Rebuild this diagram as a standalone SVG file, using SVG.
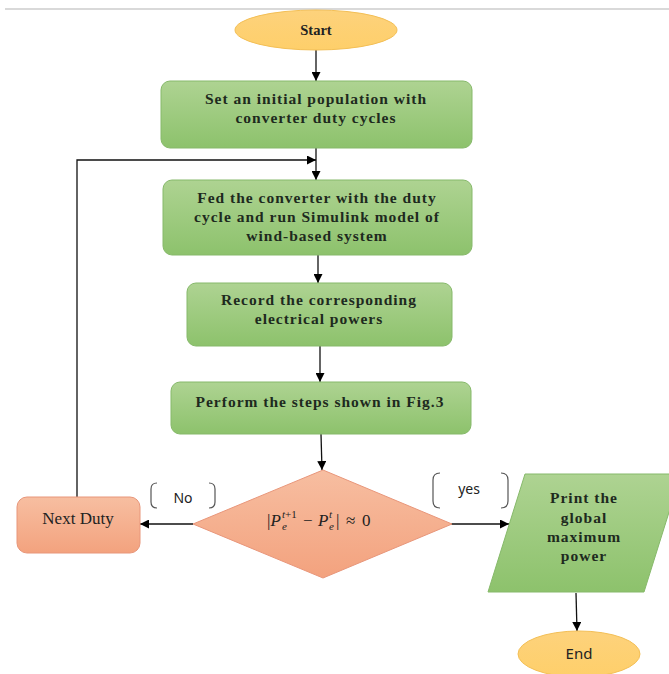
<svg xmlns="http://www.w3.org/2000/svg" width="669" height="674" viewBox="0 0 669 674">
<defs>
  <linearGradient id="gGreen" x1="0" y1="0" x2="0" y2="1">
    <stop offset="0" stop-color="#aed392"/>
    <stop offset="1" stop-color="#8dc26c"/>
  </linearGradient>
  <linearGradient id="gOrange" x1="0" y1="0" x2="0" y2="1">
    <stop offset="0" stop-color="#f7bea1"/>
    <stop offset="1" stop-color="#f3a27e"/>
  </linearGradient>
  <linearGradient id="gYellow" x1="0" y1="0" x2="0" y2="1">
    <stop offset="0" stop-color="#fdd27c"/>
    <stop offset="1" stop-color="#fecf6a"/>
  </linearGradient>
  <marker id="arr" viewBox="0 0 10 10" refX="10" refY="5" markerWidth="9" markerHeight="9" markerUnits="userSpaceOnUse" orient="auto">
    <path d="M0,0 L10,5 L0,10 z" fill="#000"/>
  </marker>
</defs>
<style>
  .green { fill: url(#gGreen); stroke: #86b96a; stroke-width: 1; }
  .orange { fill: url(#gOrange); stroke: #e8967a; stroke-width: 1; }
  .yellow { fill: url(#gYellow); stroke: #f3bf56; stroke-width: 1; }
  .bt { font-family: "Liberation Serif", "Times New Roman", serif; font-weight: bold; font-size: 15.5px; letter-spacing: 1px; fill: #1e2a1e; text-anchor: middle; }
  .rt { font-family: "Liberation Serif", "Times New Roman", serif; font-size: 17px; fill: #222; text-anchor: middle; }
  .st { font-family: "Noto Sans", "Open Sans", sans-serif; font-size: 14px; fill: #222; text-anchor: middle; }
  .mt { font-family: "Liberation Serif", "Times New Roman", serif; font-size: 17px; fill: #222; }
  .mi { font-style: italic; }
  .ms { font-family: "Liberation Serif", "Times New Roman", serif; font-size: 11px; font-style: italic; fill: #222; }
  .conn { stroke: #111; stroke-width: 1.3; fill: none; }
  .br { stroke: #555; stroke-width: 1.2; fill: none; }
</style>
<rect x="0" y="0" width="669" height="674" fill="#fff"/>
<line x1="5" y1="9" x2="669" y2="9" stroke="#d9d9d9" stroke-width="2"/>

<g id="connectors">
  <line class="conn" x1="316" y1="50" x2="316" y2="81" marker-end="url(#arr)"/>
  <line class="conn" x1="316" y1="148" x2="316" y2="180" marker-end="url(#arr)"/>
  <polyline class="conn" points="77,497 77,160 316,160" marker-end="url(#arr)"/>
  <line class="conn" x1="318" y1="255" x2="318" y2="283" marker-end="url(#arr)"/>
  <line class="conn" x1="320" y1="346" x2="320" y2="382" marker-end="url(#arr)"/>
  <line class="conn" x1="321" y1="434" x2="322" y2="470" marker-end="url(#arr)"/>
  <line class="conn" x1="193" y1="524" x2="140" y2="524" marker-end="url(#arr)"/>
  <line class="conn" x1="451" y1="524" x2="509" y2="524" marker-end="url(#arr)"/>
  <line class="conn" x1="576" y1="593" x2="577" y2="631" marker-end="url(#arr)"/>
</g>

<g id="start">
  <ellipse class="yellow" cx="316" cy="30" rx="81" ry="20"/>
  <text class="st" x="316" y="35" style="font-family:'Liberation Serif',serif;font-weight:bold;font-size:14.5px">Start</text>
</g>

<g id="init">
  <rect class="green" x="161" y="81" width="311" height="67" rx="9"/>
  <text class="bt" x="316" y="104">Set an initial population with</text>
  <text class="bt" x="316" y="123">converter duty cycles</text>
</g>

<g id="feed">
  <rect class="green" x="163" y="180" width="309" height="75" rx="9"/>
  <text class="bt" x="317" y="203">Fed the converter with the duty</text>
  <text class="bt" x="317" y="222">cycle and run Simulink model of</text>
  <text class="bt" x="317" y="241">wind-based system</text>
</g>

<g id="record">
  <rect class="green" x="187" y="283" width="265" height="63" rx="9"/>
  <text class="bt" x="319" y="305">Record the corresponding</text>
  <text class="bt" x="319" y="324">electrical powers</text>
</g>

<g id="perform">
  <rect class="green" x="171" y="382" width="300" height="52" rx="9"/>
  <text class="bt" x="320" y="407">Perform the steps shown in Fig.3</text>
</g>

<g id="decision">
  <polygon class="orange" points="323,470 452,524 323,578 193,524"/>
  <text class="mt" x="267" y="526">|<tspan class="mi">P</tspan></text>
  <text class="ms" x="282" y="518">t<tspan font-style="normal">+1</tspan></text>
  <text class="ms" x="282" y="530">e</text>
  <text class="mt" x="303" y="526">−</text>
  <text class="mt mi" x="318" y="526">P</text>
  <text class="ms" x="329" y="518">t</text>
  <text class="ms" x="329" y="530">e</text>
  <text class="mt" x="336" y="526">|</text>
  <text class="mt" x="346" y="526">≈</text>
  <text class="mt" x="362" y="526">0</text>
</g>

<g id="next-duty">
  <rect class="orange" x="17" y="497" width="123" height="56" rx="10"/>
  <text class="rt" x="78" y="524">Next Duty</text>
</g>

<g id="label-no">
  <path class="br" d="M157,483 Q151,483 151,489 L151,502 Q151,508 157,508"/>
  <path class="br" d="M209,483 Q215,483 215,489 L215,502 Q215,508 209,508"/>
  <text class="st" x="183" y="503">No</text>
</g>

<g id="label-yes">
  <path class="br" d="M440,473 Q433,473 433,480 L433,501 Q433,508 440,508"/>
  <path class="br" d="M501,473 Q508,473 508,480 L508,501 Q508,508 501,508"/>
  <text class="st" x="469" y="494">yes</text>
</g>

<g id="print">
  <polygon class="green" points="525,474 681,474 644,592 488,592"/>
  <text class="bt" x="584" y="503">Print the</text>
  <text class="bt" x="584" y="523">global</text>
  <text class="bt" x="584" y="542">maximum</text>
  <text class="bt" x="584" y="561">power</text>
</g>

<g id="end">
  <ellipse class="yellow" cx="579" cy="654" rx="61" ry="23"/>
  <text class="st" x="579" y="659" style="font-size:15px">End</text>
</g>
</svg>
